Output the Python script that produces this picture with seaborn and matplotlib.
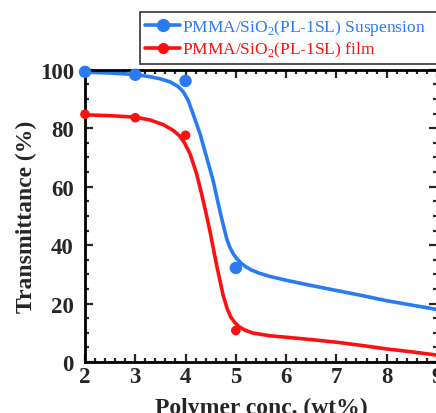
import matplotlib
matplotlib.use('Agg')
import matplotlib.pyplot as plt
from matplotlib.lines import Line2D
from matplotlib.ticker import MultipleLocator
import pandas as pd
import seaborn as sns

# =================== DATA ===================

conc = [2, 3, 4, 5]
susp_meas = [99.3, 98.3, 96.2, 32.2]
film_meas = [84.8, 83.6, 77.6, 10.8]

# smooth fitted curves
susp_x = [2.0, 2.5, 3.0, 3.3, 3.5, 3.7, 3.85, 3.95, 4.05, 4.15, 4.29, 4.42, 4.55,
          4.63, 4.72, 4.82, 4.88, 4.95, 5.02, 5.1, 5.2, 5.3, 5.45, 5.68, 6.0,
          6.5, 7.0, 7.5, 8.0, 8.5, 9.0]
susp_fit = [99.2, 98.9, 98.4, 97.6, 96.9, 95.8, 94.3, 92.6, 89.6, 84.9, 78.0, 70.0,
            62.0, 55.8, 49.0, 42.1, 39.3, 37.0, 35.4, 33.9, 32.6, 31.6, 30.5, 29.3,
            28.0, 26.2, 24.5, 22.8, 21.0, 19.5, 18.0]
film_x = [2.0, 2.5, 3.0, 3.3, 3.56, 3.76, 3.88, 3.98, 4.09, 4.22, 4.32, 4.40, 4.49,
          4.62, 4.75, 4.83, 4.9, 4.98, 5.08, 5.2, 5.35, 5.68, 6.0, 6.5, 7.0,
          7.5, 8.0, 8.5, 9.0]
film_fit = [84.6, 84.3, 83.8, 82.8, 81.2, 79.2, 77.4, 75.0, 71.2, 64.4, 57.5, 51.5,
            44.4, 33.0, 22.7, 18.2, 15.4, 13.5, 11.9, 10.8, 9.9, 9.0, 8.5, 7.7, 6.8,
            5.7, 4.5, 3.5, 2.4]

labels = [r'PMMA/SiO$_2$(PL-1SL) Suspension', r'PMMA/SiO$_2$(PL-1SL) film']
BLUE = '#2a7bf2'
RED = '#ff1010'

# =================== PLOT ===================

sns.set_style('ticks')
plt.rcParams['font.family'] = ['Liberation Serif', 'DejaVu Serif']
plt.rcParams['mathtext.fontset'] = 'custom'
plt.rcParams['mathtext.rm'] = 'Liberation Serif'

susp_df = pd.DataFrame({'x': susp_x, 'y': susp_fit})
film_df = pd.DataFrame({'x': film_x, 'y': film_fit})
pts_df = pd.DataFrame({'x': conc, 'susp': susp_meas, 'film': film_meas})

fig = plt.figure(figsize=(4.36, 4.14), dpi=100)
ax = fig.add_axes([0.195, 0.123, 0.807, 0.706])

sns.lineplot(data=susp_df, x='x', y='y', color=BLUE, lw=2.6, ax=ax, sort=False)
sns.lineplot(data=film_df, x='x', y='y', color=RED, lw=2.6, ax=ax, sort=False)
sns.scatterplot(data=pts_df, x='x', y='susp', color=BLUE, s=80, edgecolor='none',
                ax=ax, clip_on=False, zorder=5)
sns.scatterplot(data=pts_df, x='x', y='film', color=RED, s=48, edgecolor='none',
                ax=ax, clip_on=False, zorder=5)

ax.set_xlim(2, 9)
ax.set_ylim(0, 100)
ax.xaxis.set_major_locator(MultipleLocator(1))
ax.xaxis.set_minor_locator(MultipleLocator(0.2))
ax.yaxis.set_major_locator(MultipleLocator(20))
ax.yaxis.set_minor_locator(MultipleLocator(5))
ax.tick_params(which='both', direction='in', top=True, right=True, width=1.6,
               labelsize=16.5)
ax.tick_params(which='major', length=6)
ax.tick_params(which='minor', length=3)
ax.tick_params(axis='y', pad=8)
ax.tick_params(axis='x', pad=3)
for lbl in ax.get_xticklabels() + ax.get_yticklabels():
    lbl.set_fontweight('bold')
for sp in ax.spines.values():
    sp.set_linewidth(2.0)
    sp.set_color('black')

ax.set_xlabel('Polymer conc. (wt%)', fontsize=17, fontweight='bold', labelpad=7)
ax.set_ylabel('Transmittance (%)', fontsize=17, fontweight='bold', labelpad=2)

handles = [
    Line2D([], [], color=BLUE, lw=2.6, marker='o', markersize=8.5),
    Line2D([], [], color=RED, lw=2.6, marker='o', markersize=7),
]
leg = fig.legend(handles, labels, loc='upper left',
                 bbox_to_anchor=(0.321, 0.85, 0.70, 0.118), mode='expand',
                 fontsize=12.5, frameon=True, fancybox=False, borderaxespad=0,
                 handlelength=2.0, handletextpad=0.15, labelspacing=0.15,
                 borderpad=0.3)
leg.get_frame().set_edgecolor('black')
leg.get_frame().set_linewidth(1.2)
for txt, c in zip(leg.get_texts(), [BLUE, RED]):
    txt.set_color(c)

fig.savefig('out.png', dpi=100)
